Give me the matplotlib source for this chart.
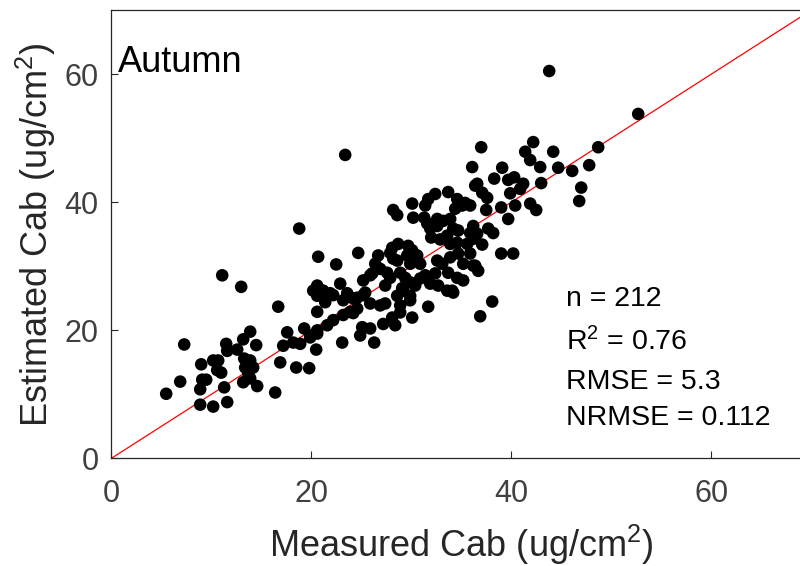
import numpy as np
import matplotlib
matplotlib.use('Agg')
import matplotlib.pyplot as plt

plt.rcParams['font.family'] = ['Liberation Sans', 'DejaVu Sans']
plt.rcParams['mathtext.fontset'] = 'custom'
plt.rcParams['mathtext.rm'] = 'Liberation Sans'
plt.rcParams['mathtext.it'] = 'Liberation Sans'

# measured vs estimated Cab (ug/cm2)
measured = [
    43.8, 52.7, 23.4, 37.0, 42.2, 41.4, 41.9, 44.2, 48.7, 36.1, 39.1, 42.9, 44.7, 46.1, 47.8,
    38.3, 39.7, 40.3, 41.2, 43.0, 36.6, 47.0, 46.8, 37.1, 37.6, 39.9, 40.9, 35.9, 37.5, 39.0,
    40.4, 41.9, 42.5, 39.7, 36.2, 37.1, 37.7, 38.2, 35.9, 39.0, 40.2, 36.4, 38.1, 36.9,
    18.8, 20.7, 11.1, 13.0, 20.2, 20.6, 16.7, 20.6, 7.3, 13.9, 13.2, 11.5, 11.6, 12.6, 14.5,
    17.6, 19.3, 17.2, 18.2, 18.9, 19.9, 20.6, 20.5, 16.9, 18.5, 19.8, 10.2, 10.7, 10.6, 11.0,
    9.0, 13.3, 13.9, 14.2, 13.4, 13.7, 13.9, 9.1, 9.5, 8.9, 6.9, 11.3, 13.2, 14.6, 5.5,
    8.9, 10.2, 11.6, 16.4,
    23.1, 25.1, 25.9, 24.9, 26.3, 27.2, 28.1, 28.4, 28.9, 31.7, 34.1, 29.2, 29.9, 28.9,
    21.4, 22.2, 23.2, 24.2, 25.2, 25.9, 26.9, 27.4,
    19.9, 20.6, 21.6, 22.2, 23.2, 23.9, 24.6, 24.2,
    33.7, 32.4, 31.7, 31.4, 34.6, 35.1, 35.4, 34.4, 30.1, 28.2, 28.6, 30.2, 31.3, 31.6, 32.6,
    33.2, 33.9, 31.9, 32.6, 34.2, 34.7, 35.9, 36.2, 32.0, 32.9, 33.6, 33.9, 34.6, 35.6, 36.2,
    36.6, 28.7, 28.1, 27.9, 29.7, 30.1, 26.7, 28.2, 28.6, 24.7, 22.5, 29.6, 30.6, 29.9, 30.9,
    32.6, 33.1, 33.9, 34.7, 35.2, 36.2, 26.4, 26.9, 26.1, 27.6, 27.9, 27.4, 25.2, 25.9, 22.9,
    20.6, 21.2, 21.9, 20.9, 23.6, 24.6, 25.4, 28.9, 29.4, 29.9, 30.4, 30.9, 31.4, 32.4, 31.9,
    32.7, 33.7, 34.6, 35.2, 33.6, 34.2, 29.1, 29.9, 28.6, 36.4, 36.7, 30.1,
]
estimated = [
    60.5, 53.8, 47.4, 48.6, 49.4, 47.9, 46.6, 47.9, 48.6, 45.5, 45.4, 45.5, 45.4, 44.9, 45.8,
    43.7, 43.5, 43.9, 42.9, 43.0, 42.9, 42.3, 40.2, 41.5, 40.7, 41.4, 42.1, 39.5, 38.8, 39.2,
    39.5, 39.8, 38.8, 37.4, 35.1, 33.4, 35.9, 35.2, 32.0, 32.0, 32.0, 30.1, 24.5, 22.2,
    35.9, 31.5, 28.6, 26.8, 26.2, 25.4, 23.7, 22.9, 17.8, 19.8, 18.6, 17.9, 16.8, 17.0, 17.7,
    19.7, 20.3, 17.6, 18.1, 17.9, 18.9, 19.5, 17.0, 15.0, 14.2, 14.1, 15.3, 15.3, 13.8, 13.4,
    14.7, 15.6, 15.3, 14.2, 14.2, 13.3, 12.5, 12.3, 12.3, 10.8, 12.0, 11.1, 11.9, 11.3, 10.1,
    8.4, 8.1, 8.8, 10.3,
    18.1, 20.5, 20.3, 19.2, 18.1, 21.0, 22.0, 20.8, 22.8, 23.7, 26.2, 26.2, 24.7, 23.9,
    24.4, 25.5, 24.7, 25.0, 25.5, 24.2, 23.9, 24.2,
    19.2, 20.0, 20.8, 21.6, 22.4, 22.9, 23.4, 22.7,
    41.6, 41.3, 40.5, 39.5, 40.5, 39.5, 39.9, 39.0, 39.8, 38.8, 38.0, 37.6, 37.6, 36.7, 37.4,
    37.1, 37.4, 35.9, 36.3, 35.9, 35.6, 35.2, 36.3, 34.5, 34.2, 34.8, 33.5, 33.7, 33.5, 34.3,
    35.1, 33.5, 32.9, 32.1, 33.2, 32.5, 31.7, 31.2, 30.9, 32.1, 30.3, 31.7, 31.7, 30.4, 30.4,
    30.9, 30.4, 31.4, 32.0, 30.4, 30.1, 30.4, 29.6, 28.9, 29.0, 28.2, 27.0, 27.8, 28.6, 27.3,
    27.0, 26.2, 25.8, 25.8, 25.8, 25.1, 25.9, 29.0, 28.2, 27.5, 27.0, 28.1, 28.6, 28.9, 27.3,
    27.0, 29.0, 28.2, 27.8, 26.2, 25.9, 26.6, 25.4, 25.4, 42.6, 29.3, 22.0,
]

stats = ['n = 212', 'R$^2$ = 0.76', 'RMSE = 5.3', 'NRMSE = 0.112']

fig = plt.figure(figsize=(8, 5.66), dpi=100)
ax = fig.add_axes([0.139, 0.19, 0.875, 0.792])

ax.plot([0, 70], [0, 70], color='red', linewidth=0.9, zorder=1)
ax.scatter(measured, estimated, s=82, color='black', edgecolors='none', zorder=2)

ax.set_xlim(0, 70)
ax.set_ylim(0, 70)
ax.set_xticks([0, 20, 40, 60])
ax.set_yticks([0, 20, 40, 60])
ax.tick_params(direction='in', labelsize=22, colors='#262626', labelcolor='#404040', length=5)
ax.tick_params(axis='x', pad=15)
ax.tick_params(axis='y', pad=9)
for s in ax.spines.values():
    s.set_color('#262626')
    s.set_linewidth(0.9)

ax.set_xlabel('Measured Cab (ug/cm$^2$)', fontsize=26, color='#262626', labelpad=10)
ax.set_ylabel('Estimated Cab (ug/cm$^2$)', fontsize=26, color='#262626', labelpad=5)

ax.text(0.01, 0.883, 'Autumn', transform=ax.transAxes, fontsize=26, color='black', va='center')
for txt, yy in zip(stats, [0.355, 0.26, 0.17, 0.09]):
    ax.text(0.649, yy, txt, transform=ax.transAxes, fontsize=20.5, color='black', va='center')

fig.savefig('out.png', dpi=100)
